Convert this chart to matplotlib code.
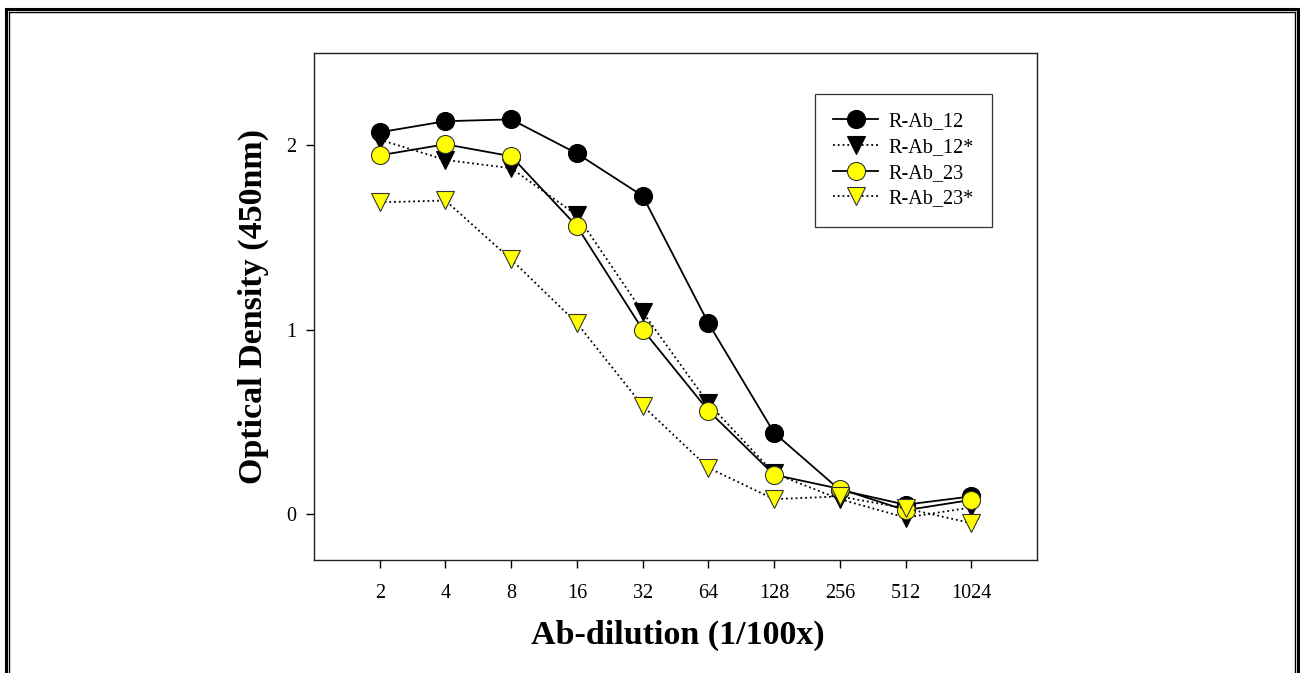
import numpy as np
import matplotlib

matplotlib.use("Agg")
import matplotlib.pyplot as plt
from matplotlib.lines import Line2D

plt.rcParams["font.family"] = ["Liberation Serif", "DejaVu Serif"]

# dilution steps (1/100x) and optical density readings at 450 nm
dilutions = [2, 4, 8, 16, 32, 64, 128, 256, 512, 1024]
tick_labels = [str(d) for d in dilutions]

od_ab12 = [2.07, 2.13, 2.14, 1.955, 1.725, 1.035, 0.44, 0.13, 0.05, 0.095]
od_ab12s = [2.03, 1.92, 1.875, 1.62, 1.095, 0.60, 0.22, 0.08, -0.02, 0.035]
od_ab23 = [1.945, 2.005, 1.94, 1.56, 1.0, 0.56, 0.212, 0.136, 0.02, 0.076]
od_ab23s = [1.69, 1.70, 1.38, 1.035, 0.587, 0.25, 0.08, 0.095, 0.03, -0.05]

series_names = ["R-Ab_12", "R-Ab_12*", "R-Ab_23", "R-Ab_23*"]

W, H = 1300, 673
fig = plt.figure(figsize=(W / 100, H / 100), dpi=100)
ax = fig.add_axes([314 / W, 1 - 560 / H, (1037 - 314) / W, (560 - 53) / H])

x = np.log2(dilutions)

ax.plot(x, od_ab12, "-", color="black", lw=1.3, marker="o", ms=13,
        mfc="black", mec="black", mew=0.8, label=series_names[0], zorder=3)
ax.plot(x, od_ab12s, ":", color="black", lw=1.3, marker="v", ms=13,
        mfc="black", mec="black", mew=0.8, label=series_names[1], zorder=4)
ax.plot(x, od_ab23, "-", color="black", lw=1.3, marker="o", ms=13,
        mfc="#ffff00", mec="#333333", mew=0.8, label=series_names[2], zorder=5)
ax.plot(x, od_ab23s, ":", color="black", lw=1.3, marker="v", ms=13,
        mfc="#ffff00", mec="#333333", mew=0.8, label=series_names[3], zorder=6)

ax.set_xlim(0, 11)
ax.set_ylim(-0.25, 2.5)
ax.set_xticks(x)
ax.set_xticklabels(tick_labels)
ax.set_yticks([0, 1, 2])
ax.set_yticklabels(["0", "1", "2"])
ax.tick_params(direction="out", length=6, width=1, labelsize=14.5, colors="black")
ax.tick_params(axis="x", pad=11)
ax.tick_params(axis="y", pad=7)
for sp in ax.spines.values():
    sp.set_linewidth(1.0)
    sp.set_color("#222222")

fig.text(678 / W, 1 - 635 / H, "Ab-dilution (1/100x)", ha="center", va="center",
         fontsize=24.5, fontweight="bold")
fig.text(253 / W, 1 - 307 / H, "Optical Density (450nm)", ha="center", va="center",
         rotation=90, fontsize=24.5, fontweight="bold")

leg = ax.legend(loc="upper left", bbox_to_anchor=((815 - 314) / (1037 - 314), 1 - (94 - 53) / (560 - 53)),
                fontsize=14.5, frameon=True, fancybox=False, borderpad=0.9,
                handlelength=2.25, handletextpad=0.5, labelspacing=0.33, borderaxespad=0)
leg.get_frame().set_edgecolor("black")
leg.get_frame().set_linewidth(0.9)

# double page border (thick outer, thin inner); bottom edge runs off the image
def px(xp, yp):
    return xp / W, 1 - yp / H

for (x0, y0, x1, y1, lw) in [(6, 9, 6, H + 5, 2.2), (8.8, 11.5, 8.8, H + 5, 1.0),
                             (6, 9, 1297.6, 9, 2.2), (8.8, 11.5, 1294.6, 11.5, 1.0),
                             (1297.6, 9, 1297.6, H + 5, 2.2), (1294.6, 11.5, 1294.6, H + 5, 1.0)]:
    a, b = px(x0, y0)
    c, d = px(x1, y1)
    fig.add_artist(Line2D([a, c], [b, d], color="black", lw=lw,
                          solid_capstyle="projecting", transform=fig.transFigure))

fig.savefig("out.png", dpi=100, facecolor="white")
